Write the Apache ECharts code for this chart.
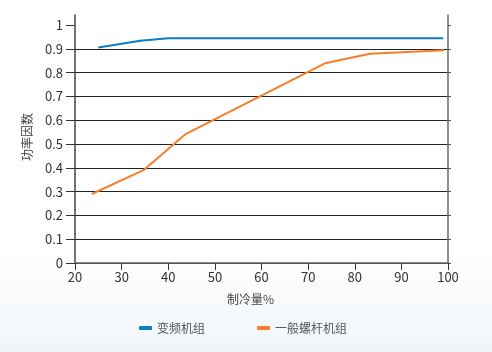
<!DOCTYPE html>
<html>
<head>
<meta charset="utf-8">
<script src="https://cdn.jsdelivr.net/npm/echarts@6/dist/echarts.min.js"></script>
<style>
  html, body { margin: 0; padding: 0; }
  body {
    width: 492px; height: 352px;
    background: linear-gradient(to bottom, #ffffff 0px, #ffffff 250px, #f1f5fa 352px);
  }
  #chart { width: 492px; height: 352px; }
</style>
</head>
<body>
<div id="chart"></div>
<script>
// 制冷量% / 功率因数
var blueName = '变频机组'
var blueX = [25, 34, 40, 99]
var blueY = [0.905, 0.934, 0.944, 0.944]
var orangeName = '一般螺杆机组'
var orangeX = [23.6, 34.7, 43.6, 73.6, 83.3, 99.2]
var orangeY = [0.29, 0.39, 0.54, 0.839, 0.879, 0.894]
var yTicks = [0, 0.1, 0.2, 0.3, 0.4, 0.5, 0.6, 0.7, 0.8, 0.9, 1]

function pairs(xs, ys) {
  return xs.map(function(x, i) { return [x, ys[i]] })
}

var font = '"Noto Sans CJK SC", "Noto Sans", sans-serif'
var myChart = echarts.init(document.getElementById('chart'))
var option = {
  backgroundColor: 'transparent',
  textStyle: { fontFamily: font },
  grid: { left: 75, right: 44, top: 15, bottom: 89 },
  legend: {
    bottom: 13,
    left: 134,
    itemGap: 52,
    itemWidth: 13,
    itemHeight: 4,
    icon: 'roundRect',
    textStyle: { fontSize: 12, color: '#555', fontFamily: font },
    data: [blueName, orangeName]
  },
  xAxis: {
    type: 'value',
    min: 20,
    max: 100,
    interval: 10,
    name: '制冷量%',
    nameLocation: 'middle',
    nameGap: 30,
    nameTextStyle: { fontSize: 12, color: '#444', padding: [0, 22, 0, 0] },
    axisLine: { lineStyle: { color: '#666', width: 1.5 } },
    axisTick: { show: true, length: 7, lineStyle: { color: '#333' } },
    axisLabel: { fontSize: 13, color: '#333', margin: 8 },
    splitLine: { show: false }
  },
  yAxis: [
    {
      type: 'value',
      min: 0,
      max: 1.042,
      interval: 0.1,
      name: '功率因数',
      nameLocation: 'middle',
      nameGap: 42,
      nameTextStyle: { fontSize: 12, color: '#444', padding: [0, 0, 0, 4] },
      axisLine: { show: true, lineStyle: { color: '#444', width: 1.5 } },
      axisTick: { show: true, length: 9, customValues: yTicks, lineStyle: { color: '#333' } },
      axisLabel: {
        fontSize: 13, color: '#333', margin: 12, customValues: yTicks,
        formatter: function(v) { return String(Math.round(v * 10) / 10) }
      },
      splitLine: { show: true, showMaxLine: false, lineStyle: { color: '#222', width: 1 } }
    },
    {
      type: 'value',
      min: 0,
      max: 1.042,
      interval: 0.1,
      position: 'right',
      axisLine: { show: true, lineStyle: { color: '#666', width: 1.5 } },
      axisTick: { show: true, length: 3, customValues: yTicks, lineStyle: { color: '#555' } },
      axisLabel: { show: false },
      splitLine: { show: false }
    }
  ],
  series: [
    {
      name: blueName,
      type: 'line',
      color: '#0b7dc1',
      symbol: 'none',
      lineStyle: { width: 2 },
      data: pairs(blueX, blueY)
    },
    {
      name: orangeName,
      type: 'line',
      color: '#f57f29',
      symbol: 'none',
      lineStyle: { width: 2 },
      data: pairs(orangeX, orangeY)
    }
  ]
}
myChart.setOption(option)
</script>
</body>
</html>
